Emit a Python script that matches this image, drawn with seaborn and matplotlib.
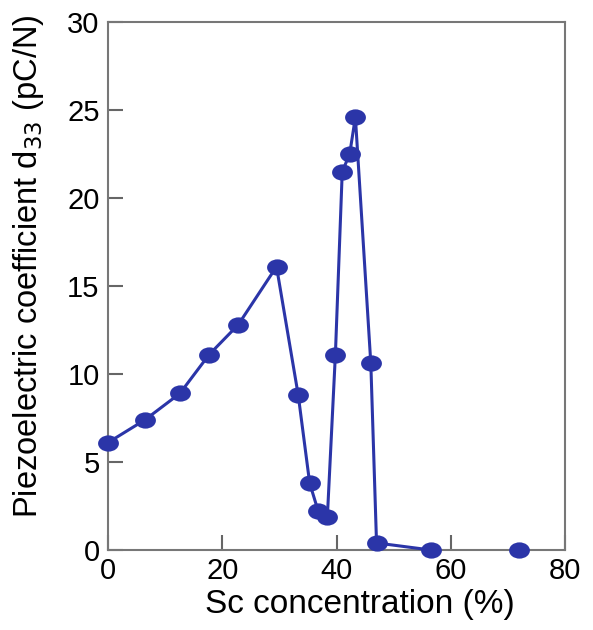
import numpy as np
import pandas as pd
import matplotlib
matplotlib.use("Agg")
import matplotlib.pyplot as plt
from matplotlib.path import Path
from matplotlib.transforms import Affine2D
import seaborn as sns

# Data
sc_conc = [0.0, 6.5, 12.6, 17.7, 22.8, 29.5, 33.3, 35.3, 36.8, 38.4, 39.8, 41.0, 42.3, 43.3, 46.0, 47.0, 56.5]
d33 = [6.1, 7.4, 8.9, 11.1, 12.8, 16.1, 8.8, 3.8, 2.2, 1.9, 11.1, 21.5, 22.5, 24.6, 10.6, 0.4, 0.0]
iso_conc = [72.0]
iso_d33 = [0.0]
x_ticks = [0, 20, 40, 60, 80]
y_ticks = [0, 5, 10, 15, 20, 25, 30]

sns.set_style("white")
plt.rcParams['font.family'] = ['Liberation Sans', 'DejaVu Sans']
plt.rcParams['text.color'] = 'black'
plt.rcParams['axes.labelcolor'] = 'black'
plt.rcParams['xtick.color'] = 'black'
plt.rcParams['ytick.color'] = 'black'

color = "#2b35a8"
ellipse = Path.unit_circle().transformed(Affine2D().scale(1.0, 0.78))

fig = plt.figure(figsize=(5.93, 6.30), dpi=100)
ax = fig.add_axes([0.182, 0.127, 0.771, 0.838])

df = pd.DataFrame({"x": sc_conc, "y": d33})
sns.lineplot(data=df, x="x", y="y", sort=False, ax=ax, color=color, lw=2.2,
             marker=ellipse, markersize=15, markeredgewidth=0, markerfacecolor=color,
             clip_on=False, zorder=3)
df2 = pd.DataFrame({"x": iso_conc, "y": iso_d33})
sns.lineplot(data=df2, x="x", y="y", ax=ax, color=color, lw=0,
             marker=ellipse, markersize=15, markeredgewidth=0, markerfacecolor=color,
             clip_on=False, zorder=3)

ax.set_xlim(0, 80)
ax.set_ylim(0, 30)
ax.set_xticks(x_ticks)
ax.set_yticks(y_ticks)
ax.set_xticklabels([str(v) for v in x_ticks], fontsize=21)
ax.set_yticklabels([str(v) for v in y_ticks], fontsize=21)
ax.tick_params(axis="both", direction="in", length=11, width=1.5, color="#666666",
               labelcolor="black", bottom=True, left=True)
ax.tick_params(axis="x", pad=5)
ax.tick_params(axis="y", pad=6)
for s in ax.spines.values():
    s.set_color("#777777")
    s.set_linewidth(1.5)

ax.set_xlabel("Sc concentration (%)", fontsize=24, color="black")
ax.set_ylabel("Piezoelectric coefficient d$_{33}$ (pC/N)", fontsize=23.5, color="black")
ax.xaxis.set_label_coords(0.55, -0.074)
ax.yaxis.set_label_coords(-0.135, 0.538)

fig.savefig("out.png", dpi=100)
